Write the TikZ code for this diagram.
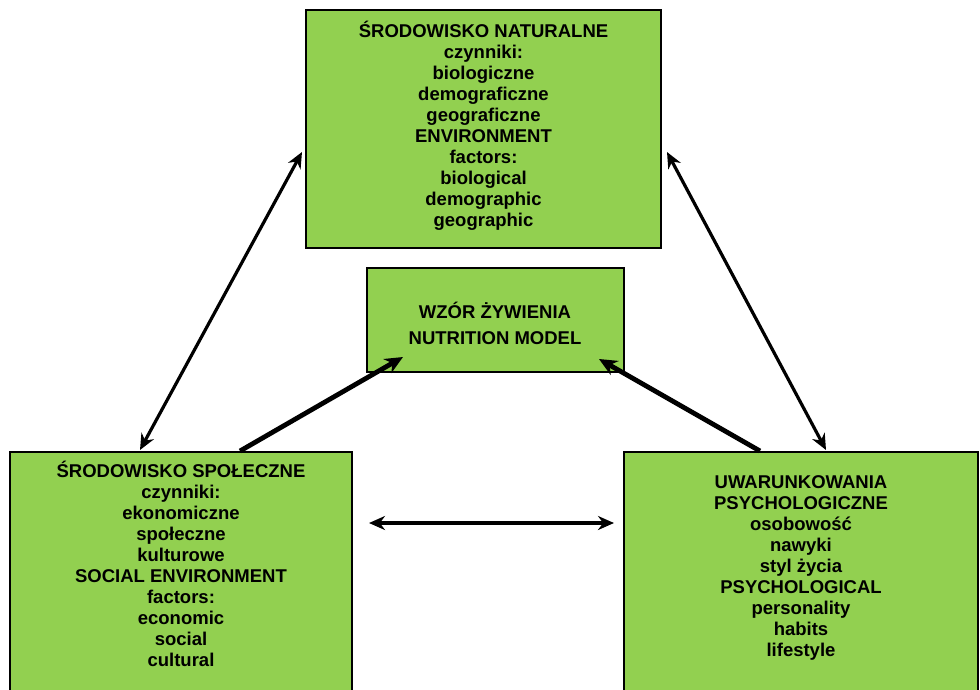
\documentclass[tikz,border=0pt]{standalone}
\usepackage{fontspec}
\setmainfont{Liberation Sans}
\usetikzlibrary{arrows.meta}
\definecolor{boxgreen}{HTML}{92D050}
\begin{document}
\begin{tikzpicture}[x=1pt,y=-1pt,
  gbox/.style={draw=black,line width=1.5pt,fill=boxgreen},
  btext/.style={align=center,font=\fontsize{18.5}{21}\selectfont\bfseries,inner sep=0pt},
  thin/.style={line width=3.2pt,{Stealth[length=16pt,width=14pt]}-{Stealth[length=16pt,width=14pt]}},
  thick/.style={line width=4.8pt,-{Stealth[length=18pt,width=16pt]}}]
\useasboundingbox (0,0) rectangle (980,689);
\draw[gbox] (306,10) rectangle (661,248);
\draw[gbox] (367,268) rectangle (624,372);
\draw[gbox] (10,452) rectangle (352,700);
\draw[gbox] (624,452) rectangle (978,700);
\node[btext,anchor=north] (top) at (483.5,21) {ŚRODOWISKO NATURALNE\\czynniki:\\biologiczne\\demograficzne\\geograficzne\\ENVIRONMENT\\factors:\\biological\\demographic\\geographic};
\node[btext,font=\fontsize{18.5}{26}\selectfont\bfseries] (mid) at (495,323) {WZÓR ŻYWIENIA\\NUTRITION MODEL};
\node[btext,anchor=north] (left) at (181,461) {ŚRODOWISKO SPOŁECZNE\\czynniki:\\ekonomiczne\\społeczne\\kulturowe\\SOCIAL ENVIRONMENT\\factors:\\economic\\social\\cultural};
\node[btext,anchor=north] (right) at (801,475) {UWARUNKOWANIA\\PSYCHOLOGICZNE\\osobowość\\nawyki\\styl życia\\PSYCHOLOGICAL\\personality\\habits\\lifestyle};
\coordinate (a1) at (140,450);
\coordinate (a2) at (302,152);
\coordinate (b1) at (667,152);
\coordinate (b2) at (826,450);
\coordinate (c1) at (240,451);
\coordinate (c2) at (403,357);
\coordinate (d1) at (760,451);
\coordinate (d2) at (599,359);
\coordinate (e1) at (369,523);
\coordinate (e2) at (614,523);
\draw[thin] (a1) -- (a2);
\draw[thin] (b1) -- (b2);
\draw[thick] (c1) -- (c2);
\draw[thick] (d1) -- (d2);
\draw[thin] (e1) -- (e2);
\end{tikzpicture}
\end{document}
